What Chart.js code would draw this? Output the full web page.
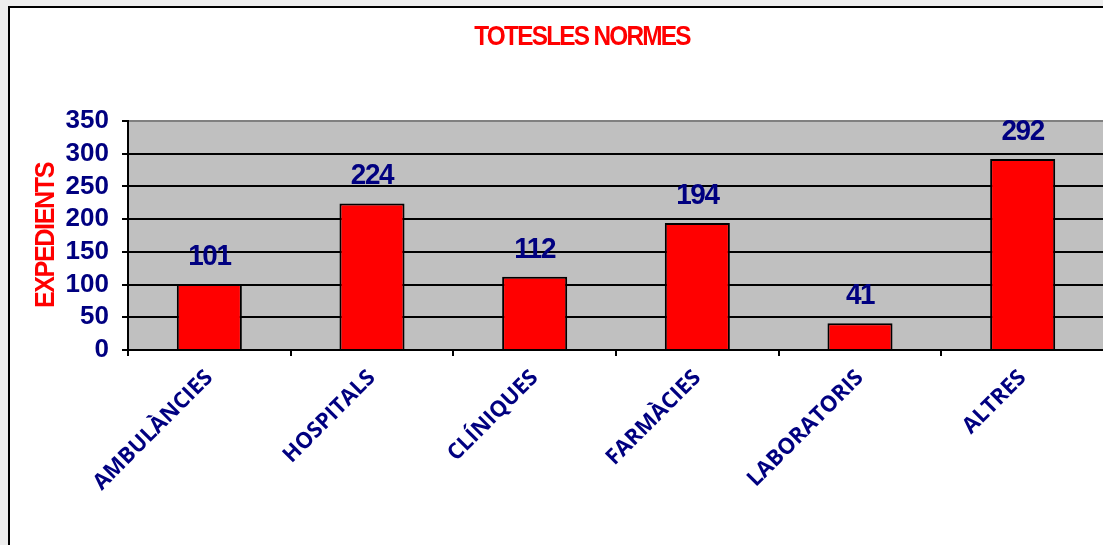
<!DOCTYPE html>
<html><head><meta charset="utf-8">
<script src="https://cdn.jsdelivr.net/npm/chart.js@4"></script>
<style>
html,body{margin:0;padding:0;background:#eeeeee;overflow:hidden;width:1103px;height:545px;}
#panel{position:absolute;left:8px;top:6px;width:1130px;height:570px;border:2px solid #000;background:#fff;}
#c{position:absolute;left:0;top:0;}
</style></head><body>
<div id="panel"><canvas id="c" width="1094" height="537"></canvas></div>
<script>
const categories = ['AMBULÀNCIES', 'HOSPITALS', 'CLÍNIQUES', 'FARMÀCIES', 'LABORATORIS', 'ALTRES'];
const expedients = [101, 224, 112, 194, 41, 292];
const yTickValues = [0, 50, 100, 150, 200, 250, 300, 350];
const titleText = 'TOTESLES NORMES';
const yAxisTitle = 'EXPEDIENTS';

const ARIAL = '"Liberation Sans", Arial, sans-serif';
const NAVY = '#000080';
const RED = '#ff0000';

function drawScaledText(ctx, text, x, y, font, color, sx, rot, spacing) {
  ctx.save();
  ctx.translate(x, y);
  if (rot) ctx.rotate(rot);
  ctx.scale(sx, 1);
  ctx.font = font;
  ctx.fillStyle = color;
  ctx.textAlign = 'center';
  ctx.textBaseline = 'alphabetic';
  if ('letterSpacing' in ctx) ctx.letterSpacing = (spacing || 0) + 'px';
  ctx.fillText(text, 0, 0);
  ctx.restore();
}

const decorPlugin = {
  id: 'decor',
  beforeDraw(chart) {
    const {ctx, chartArea: a} = chart;
    ctx.save();
    ctx.fillStyle = '#c0c0c0';
    ctx.fillRect(a.left, a.top, a.right - a.left, a.bottom - a.top);
    ctx.restore();
  },
  afterDatasetsDraw(chart) {
    const ctx = chart.ctx;
    const meta = chart.getDatasetMeta(0);
    meta.data.forEach((el, i) => {
      drawScaledText(ctx, String(chart.data.datasets[0].data[i]), el.x, el.y - 19,
        'bold 30px ' + ARIAL, NAVY, 0.93, 0, -1.5);
    });
  },
  afterDraw(chart) {
    const ctx = chart.ctx;
    const a = chart.chartArea;
    drawScaledText(ctx, titleText, 572, 37, 'bold 28px ' + ARIAL, RED, 0.87, 0, -2);
    drawScaledText(ctx, yAxisTitle, 44, (a.top + a.bottom) / 2, 'bold 28px ' + ARIAL, RED, 0.9, -Math.PI / 2, -1.6);
  }
};

new Chart(document.getElementById('c'), {
  type: 'bar',
  data: {
    labels: categories,
    datasets: [{
      data: expedients,
      backgroundColor: RED,
      borderColor: '#000',
      borderWidth: 2,
      barPercentage: 0.4,
      categoryPercentage: 1.0
    }]
  },
  options: {
    responsive: false,
    devicePixelRatio: 1,
    animation: false,
    layout: {padding: {top: 113, left: 0, right: 0, bottom: 0}},
    plugins: {legend: {display: false}, tooltip: {enabled: false}, title: {display: false}},
    scales: {
      x: {
        grid: {display: true, drawOnChartArea: false, drawTicks: true, tickLength: 6, color: '#000', lineWidth: 2, offset: true},
        border: {display: true, color: '#000', width: 2},
        ticks: {
          color: NAVY,
          font: {family: '"Open Sans", sans-serif', size: 22, weight: 'bold'},
          minRotation: 45, maxRotation: 45, padding: 9, autoSkip: false
        },
        afterFit(s) { s.height = 537 - 342; }
      },
      y: {
        min: 0, max: 350,
        afterBuildTicks(s) { s.ticks = yTickValues.map(v => ({value: v})); },
        grid: {
          color: c => (c.tick && c.tick.value === 350) ? '#808080' : '#000',
          tickColor: '#000',
          lineWidth: 2, tickLength: 6, drawTicks: true
        },
        border: {display: true, color: '#000', width: 2},
        ticks: {color: NAVY, font: {family: ARIAL, size: 26, weight: 'bold'}, padding: 13, autoSkip: false},
        afterFit(s) { s.width = 118; }
      }
    }
  },
  plugins: [decorPlugin]
});
</script>
</body></html>
